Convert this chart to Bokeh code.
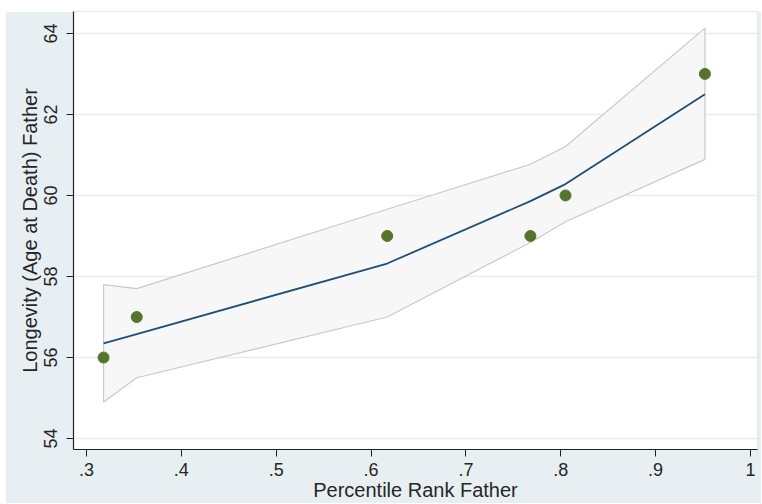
from bokeh.plotting import figure
from bokeh.models import Range1d, FixedTicker, Spacer
from bokeh.layouts import column, row
from bokeh.embed import file_html
from bokeh.resources import INLINE

# data
rank_father = [0.318, 0.353, 0.617, 0.768, 0.805, 0.952]
longevity = [56, 57, 59, 59, 60, 63]
fit_line = [56.35, 56.58, 58.32, 59.86, 60.28, 62.50]
ci_upper = [57.80, 57.70, 59.66, 60.77, 61.21, 64.13]
ci_lower = [54.90, 55.50, 57.00, 58.84, 59.35, 60.89]
x_ticks = [0.3, 0.4, 0.5, 0.6, 0.7, 0.8, 0.9, 1.0]
x_tick_labels = [".3", ".4", ".5", ".6", ".7", ".8", ".9", "1"]
y_ticks = [54, 56, 58, 60, 62, 64]

BG = "#e8eff2"
TXT = "#262626"
FONT = "Liberation Sans"

p = figure(width=756, height=492, output_backend="svg", toolbar_location=None,
           x_range=Range1d(0.2863, 1.0074), y_range=Range1d(53.73, 64.54),
           min_border_left=68, min_border_right=4, min_border_top=0, min_border_bottom=53)
p.background_fill_color = "white"
p.border_fill_color = BG
p.outline_line_color = "#e3e9ec"

# confidence band
band_x = rank_father + rank_father[::-1]
band_y = ci_upper + ci_lower[::-1]
p.patch(band_x, band_y, fill_color="#f7f7f7", line_color="#c9c9c9", line_width=1.2)

# fitted line
p.line(rank_father, fit_line, line_color="#1f4e79", line_width=1.8)

# points
p.scatter(rank_father, longevity, size=11, fill_color="#55752f", line_color="#55752f")

# axes
p.xaxis.ticker = FixedTicker(ticks=x_ticks)
p.xaxis.major_label_overrides = {t: l for t, l in zip(x_ticks, x_tick_labels)}
p.yaxis.ticker = FixedTicker(ticks=y_ticks)
p.xaxis.axis_label = "Percentile Rank Father"
p.yaxis.axis_label = "Longevity (Age at Death) Father"
for ax in (p.xaxis, p.yaxis):
    ax.axis_line_color = "#222222"
    ax.axis_line_width = 1.2
    ax.major_tick_line_color = "#222222"
    ax.major_tick_out = 7
    ax.major_tick_in = 0
    ax.minor_tick_line_color = None
    ax.major_label_text_font = FONT
    ax.major_label_text_font_size = "18px"
    ax.major_label_text_color = TXT
    ax.axis_label_text_font = FONT
    ax.axis_label_text_font_size = "20px"
    ax.axis_label_text_font_style = "normal"
    ax.axis_label_text_color = TXT
p.yaxis.major_label_orientation = "vertical"
p.yaxis.major_label_standoff = 9
p.yaxis.axis_label_standoff = 1
p.xaxis.major_label_standoff = 6
p.xaxis.axis_label_standoff = 0

p.xgrid.grid_line_color = None
p.ygrid.grid_line_color = "#e6edef"
p.ygrid.grid_line_width = 1.5

layout = column(Spacer(width=761, height=11),
                row(Spacer(width=5, height=492), p))

open("out.html", "w").write(file_html(layout, INLINE))
